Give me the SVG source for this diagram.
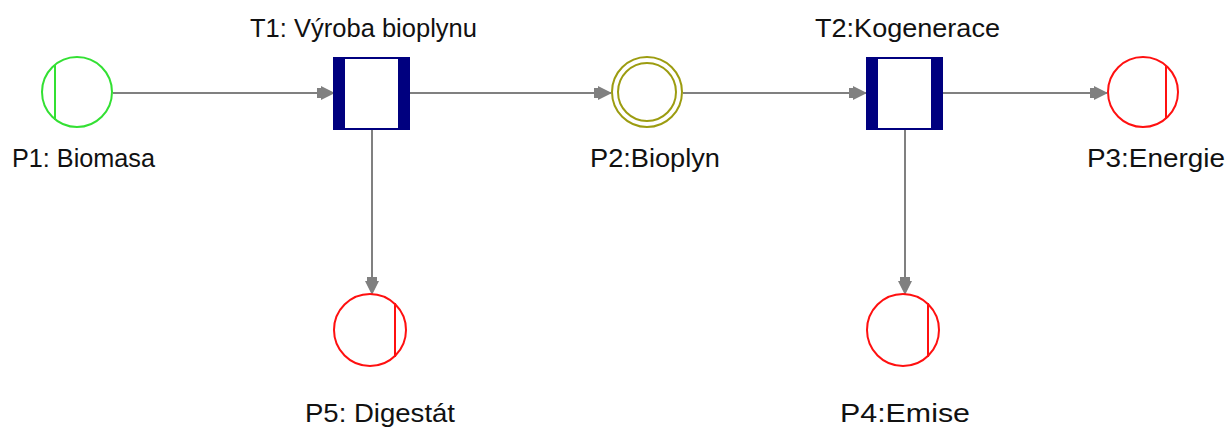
<svg xmlns="http://www.w3.org/2000/svg" width="1231" height="428" viewBox="0 0 1231 428">
<style>
.lbl{font-family:"Liberation Sans",Arial,sans-serif;font-size:25px;fill:#111}
.conn{stroke:#808080;stroke-width:2;fill:none}
.pg{fill:none;stroke:#33e033;stroke-width:2}
.pr{fill:none;stroke:#ff1010;stroke-width:2}
.po{fill:none;stroke:#9c9c10;stroke-width:2}
.tb{fill:#fff;stroke:#00007f;stroke-width:2}
.tbar{fill:#00007f}
</style>
<defs>
<marker id="arr" viewBox="0 0 18 14" refX="17" refY="7" markerWidth="18" markerHeight="14" markerUnits="userSpaceOnUse" orient="auto">
<path d="M0,2 L4,2 L4,0 L18,7 L4,14 L4,12 L0,12 Z" fill="#808080"/>
</marker>
</defs>
<rect width="1231" height="428" fill="#fff"/>
<g id="connectors">
<line class="conn" x1="113" y1="93" x2="334" y2="93" marker-end="url(#arr)"/>
<line class="conn" x1="410" y1="93" x2="611" y2="93" marker-end="url(#arr)"/>
<line class="conn" x1="683" y1="93" x2="866" y2="93" marker-end="url(#arr)"/>
<line class="conn" x1="943" y1="93" x2="1107" y2="93" marker-end="url(#arr)"/>
<line class="conn" x1="372" y1="130" x2="372" y2="294" marker-end="url(#arr)"/>
<line class="conn" x1="905" y1="130" x2="905" y2="294" marker-end="url(#arr)"/>
</g>
<g id="P1">
<circle class="pg" cx="77" cy="92" r="35"/>
<line class="pg" x1="55" y1="65" x2="55" y2="120"/>
<text class="lbl" x="12" y="167" textLength="143" lengthAdjust="spacingAndGlyphs">P1: Biomasa</text>
</g>
<g id="T1">
<rect class="tb" x="334" y="58" width="75" height="71"/>
<rect class="tbar" x="333" y="57" width="12" height="73"/>
<rect class="tbar" x="398" y="57" width="12" height="73"/>
<text class="lbl" x="250" y="37" textLength="227" lengthAdjust="spacingAndGlyphs">T1: Výroba bioplynu</text>
</g>
<g id="P2">
<circle class="po" cx="647" cy="92" r="35"/>
<circle class="po" cx="647" cy="92" r="29"/>
<text class="lbl" x="590" y="167" textLength="130" lengthAdjust="spacingAndGlyphs">P2:Bioplyn</text>
</g>
<g id="T2">
<rect class="tb" x="867" y="58" width="75" height="71"/>
<rect class="tbar" x="866" y="57" width="12" height="73"/>
<rect class="tbar" x="931" y="57" width="12" height="73"/>
<text class="lbl" x="815" y="37" textLength="185" lengthAdjust="spacingAndGlyphs">T2:Kogenerace</text>
</g>
<g id="P3">
<circle class="pr" cx="1143" cy="92" r="35"/>
<line class="pr" x1="1166" y1="66" x2="1166" y2="119"/>
<text class="lbl" x="1087" y="167" textLength="138" lengthAdjust="spacingAndGlyphs">P3:Energie</text>
</g>
<g id="P5">
<circle class="pr" cx="370" cy="330" r="36"/>
<line class="pr" x1="395" y1="303" x2="395" y2="357"/>
<text class="lbl" x="305" y="422" textLength="150" lengthAdjust="spacingAndGlyphs">P5: Digestát</text>
</g>
<g id="P4">
<circle class="pr" cx="903" cy="330" r="36"/>
<line class="pr" x1="928" y1="303" x2="928" y2="357"/>
<text class="lbl" x="840" y="422" textLength="130" lengthAdjust="spacingAndGlyphs">P4:Emise</text>
</g>
</svg>
